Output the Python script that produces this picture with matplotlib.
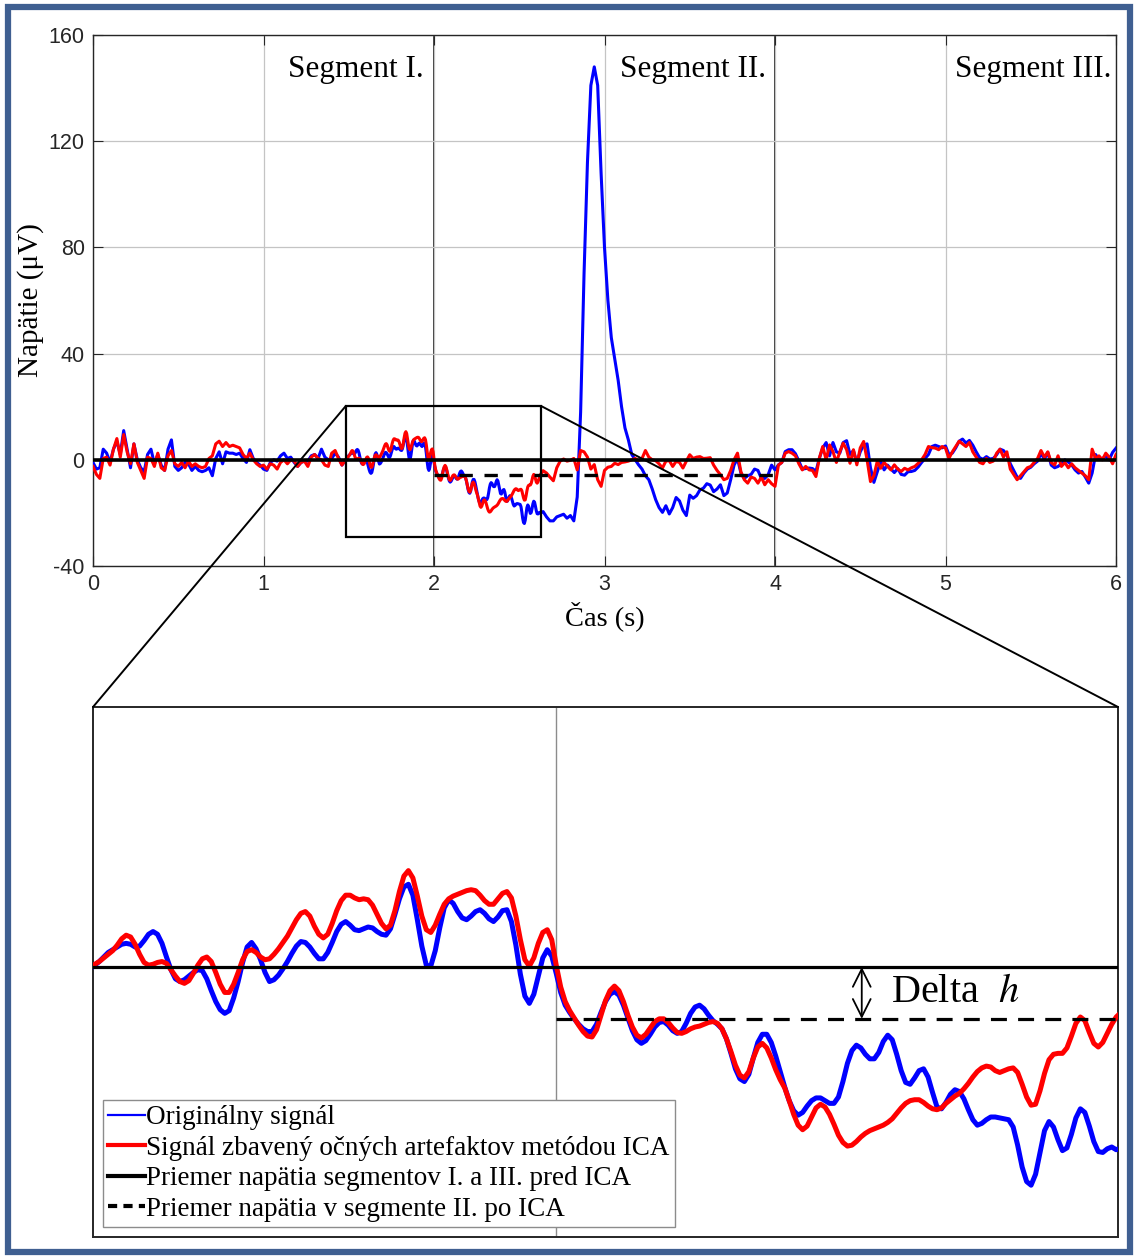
import numpy as np
import matplotlib
matplotlib.use('Agg')
import matplotlib.pyplot as plt
from matplotlib.patches import Rectangle, ConnectionPatch
from matplotlib.lines import Line2D

plt.rcParams['font.family'] = ['Liberation Serif', 'DejaVu Serif']
plt.rcParams['mathtext.fontset'] = 'stix'

# EEG signal before the zoom window: 0.00 .. 1.46 s, every 0.02 s
t0_a, dt_a = 0.0, 0.02
blue_a = [-1.0, -3.5, -3.0, 4.0, 2.5, -1.0, 4.0, 7.0, 2.0, 11.0,
          4.0, -3.0, 6.0, 0.0, -3.0, -4.5, 2.0, 4.0, -1.5, 2.0,
          -2.0, -4.0, 4.0, 7.5, -2.5, -4.0, -3.0, -1.0, -1.5, -4.0,
          -2.5, -4.0, -4.5, -4.0, -3.0, -6.0, 0.5, 3.0, -1.5, 3.0,
          2.5, 2.5, 2.0, 2.5, 0.5, -1.0, 3.8, 0.5, -1.0, -2.0,
          -3.5, -4.0, -1.0, 0.0, -0.5, 1.5, 2.5, 0.5, 1.0, -1.0,
          -2.5, -1.0, -0.5, -0.5, 1.5, 2.0, 0.5, 4.0, 1.0, 0.0,
          0.5, 2.5, 1.0, -2.0]
red_a = [-2.5, -5.5, -7.0, 0.5, 1.0, -2.0, 4.0, 8.0, 1.0, 9.5,
         3.0, -1.5, 6.0, -1.0, -4.0, -7.0, 1.0, 0.5, -2.5, 2.5,
         -3.0, -4.0, 1.5, 3.5, -1.5, -2.5, -1.0, -3.0, -0.5, -2.5,
         -1.5, -2.5, -3.0, -2.5, 0.5, 1.5, 6.0, 7.0, 5.0, 6.5,
         5.0, 5.5, 5.0, 4.5, 2.0, 0.5, 2.5, 0.0, -1.5, -2.5,
         -2.0, -3.5, -1.5, -2.0, -3.5, -1.0, 0.0, -1.5, 0.0, -0.5,
         -2.5, -1.0, -0.5, -2.5, 1.0, 2.0, 0.5, 0.0, -2.0, -2.5,
         2.5, 3.5, 0.5, -2.0]

# zoom window: 1.485 .. 2.625 s, every 0.005 s
t0_b, dt_b = 1.485, 0.005
blue_b = [0.2, 0.6, 1.1, 1.6, 1.9, 2.2, 2.5, 2.6, 2.5, 2.2,
          2.3, 2.9, 3.6, 3.9, 3.6, 2.6, 1.1, -0.3, -1.3, -1.6,
          -1.4, -1.0, -0.6, -0.3, -0.4, -1.3, -2.6, -3.8, -4.7, -5.1,
          -4.8, -3.4, -1.6, 0.5, 2.2, 2.7, 2.0, 0.8, -0.6, -1.6,
          -1.4, -0.9, -0.2, 0.6, 1.5, 2.3, 2.8, 2.7, 2.2, 1.5,
          0.9, 0.9, 1.6, 2.7, 3.9, 4.7, 5.0, 4.6, 4.1, 4.0,
          4.2, 4.4, 4.3, 3.9, 3.6, 3.5, 4.2, 5.8, 7.5, 8.8,
          9.1, 7.9, 5.2, 2.3, 0.2, 0.1, 1.8, 4.3, 6.5, 7.4,
          7.0, 6.1, 5.4, 5.2, 5.6, 6.1, 6.3, 5.9, 5.3, 5.0,
          5.5, 6.2, 6.3, 5.0, 2.4, -0.8, -3.2, -4.0, -3.0, -1.0,
          1.0, 1.9, 1.2, -0.7, -2.8, -4.2, -5.0, -5.7, -6.3, -6.8,
          -7.1, -7.1, -6.3, -5.0, -3.8, -3.0, -2.7, -3.1, -4.2, -5.6,
          -7.0, -8.0, -8.4, -8.1, -7.4, -6.6, -6.1, -6.0, -6.4, -7.0,
          -7.3, -7.1, -6.2, -5.1, -4.4, -4.2, -4.6, -5.3, -5.9, -6.3,
          -6.8, -7.9, -9.5, -11.2, -12.3, -12.6, -11.8, -10.0, -8.3, -7.4,
          -7.4, -8.3, -9.8, -11.5, -13.2, -14.7, -15.8, -16.3, -16.0, -15.3,
          -14.7, -14.4, -14.4, -14.7, -15.0, -15.0, -14.3, -12.6, -10.6, -9.2,
          -8.6, -8.9, -9.6, -10.1, -10.1, -9.4, -8.2, -7.5, -8.0, -9.6,
          -11.4, -12.7, -12.9, -12.2, -11.4, -11.2, -12.1, -13.8, -15.4, -15.6,
          -14.9, -14.0, -13.5, -13.7, -14.5, -15.7, -16.8, -17.4, -17.2, -16.8,
          -16.5, -16.5, -16.6, -16.7, -16.8, -17.6, -19.6, -22.0, -23.6, -24.0,
          -22.8, -20.4, -18.0, -17.0, -17.6, -19.0, -20.2, -19.9, -18.4, -16.6,
          -15.6, -16.0, -17.5, -19.2, -20.3, -20.4, -20.0, -19.8, -20.1]
red_b = [0.3, 0.6, 1.0, 1.4, 1.8, 2.4, 3.1, 3.5, 3.3, 2.5,
         1.4, 0.5, 0.2, 0.3, 0.5, 0.6, 0.4, -0.3, -1.0, -1.6,
         -1.8, -1.5, -0.7, 0.2, 0.9, 1.1, 0.6, -0.6, -1.9, -2.8,
         -2.8, -1.9, -0.6, 0.8, 1.7, 1.9, 1.6, 1.1, 0.8, 0.9,
         1.4, 2.0, 2.7, 3.4, 4.3, 5.2, 5.9, 6.1, 5.6, 4.5,
         3.6, 3.2, 3.6, 4.8, 6.2, 7.3, 7.9, 7.9, 7.6, 7.4,
         7.5, 7.4, 6.8, 5.8, 4.8, 4.2, 4.6, 6.2, 8.3, 10.0,
         10.6, 9.8, 7.8, 5.6, 4.1, 3.8, 4.6, 5.8, 6.9, 7.5,
         7.8, 8.0, 8.2, 8.4, 8.5, 8.4, 7.9, 7.3, 6.9, 6.9,
         7.5, 8.1, 8.3, 7.6, 5.6, 3.0, 0.8, 0.1, 1.0, 2.6,
         3.8, 4.1, 3.0, 0.2, -2.2, -3.8, -4.8, -5.6, -6.4, -7.1,
         -7.6, -7.7, -6.9, -5.3, -3.7, -2.6, -2.1, -2.6, -3.8, -5.3,
         -6.6, -7.5, -7.8, -7.4, -6.7, -6.0, -5.7, -5.7, -6.1, -6.7,
         -7.2, -7.3, -7.1, -6.8, -6.6, -6.5, -6.3, -6.1, -6.0, -6.2,
         -6.8, -7.9, -9.3, -10.8, -11.9, -12.2, -11.5, -10.0, -8.8, -8.4,
         -8.9, -10.0, -11.3, -12.4, -13.3, -14.7, -16.2, -17.4, -17.9, -17.5,
         -16.5, -15.5, -15.1, -15.4, -16.2, -17.3, -18.5, -19.3, -19.7, -19.6,
         -19.2, -18.7, -18.3, -18.0, -17.8, -17.6, -17.4, -17.1, -16.7, -16.1,
         -15.5, -15.0, -14.7, -14.6, -14.6, -14.9, -15.3, -15.6, -15.7, -15.5,
         -15.0, -14.6, -14.2, -13.9, -13.4, -12.8, -12.1, -11.5, -11.1, -10.9,
         -11.0, -11.4, -11.6, -11.4, -11.2, -11.1, -11.6, -12.9, -14.3, -15.2,
         -15.1, -13.6, -11.7, -10.2, -9.6, -9.5, -9.5, -8.9, -7.6, -6.2,
         -5.5, -5.9, -7.2, -8.4, -8.8, -8.3, -7.3, -6.3, -5.5]

# after the zoom window: 2.64 .. 6.00 s, every 0.02 s
t0_c, dt_c = 2.64, 0.02
blue_c = [-19.5, -21.5, -23.0, -23.0, -21.5, -21.0, -20.5, -22.0, -21.0, -23.0,
          -14.0, 18.0, 70.0, 112.0, 141.0, 148.0, 141.0, 108.0, 80.0, 60.0,
          46.0, 38.0, 30.0, 20.0, 12.0, 7.5, 2.0, 0.0, -1.9, -3.5,
          -6.0, -7.5, -11.0, -15.0, -18.0, -19.8, -17.3, -20.4, -18.0, -14.2,
          -15.5, -19.0, -21.0, -13.3, -14.5, -13.5, -11.3, -10.7, -9.0, -9.5,
          -12.0, -11.0, -9.4, -13.5, -12.5, -7.5, -2.0, 0.5, -5.0, -7.0,
          -6.0, -5.5, -3.5, -4.0, -7.0, -7.0, -5.6, -2.0, -3.8, -1.9,
          -1.0, 3.1, 3.8, 3.8, 2.3, -0.5, -3.5, -3.3, -3.1, -3.3,
          -4.4, 0.5, 4.5, 6.5, 1.5, 6.5, 3.0, 2.5, 6.5, 7.2,
          2.0, 3.5, -1.0, 3.0, 5.5, 6.0, -3.0, -8.5, -4.5, -0.5,
          -3.8, -2.0, -3.5, -4.8, -3.3, -5.5, -5.8, -4.5, -4.4, -4.0,
          -2.7, -1.0, 0.5, 2.0, 5.0, 5.5, 5.0, 4.5, 5.2, 2.0,
          2.5, 4.5, 7.0, 7.8, 6.3, 7.3, 5.5, 3.0, 0.8, 0.2,
          1.2, 0.3, 0.5, 1.9, 4.0, 3.5, 1.9, -1.5, -4.0, -6.5,
          -7.0, -5.0, -3.5, -2.8, -1.5, -0.5, 2.4, 0.3, 2.8, -2.0,
          -3.0, -2.5, -1.5, 0.0, -0.8, -1.9, -3.8, -5.0, -4.4, -6.5,
          -8.8, -5.0, 2.0, 0.3, 0.5, 1.3, 0.0, 2.8, 4.4]
red_c = [-4.1, -5.0, -6.5, -7.9, -3.0, -0.5, 0.3, -0.5, -0.2, 0.5,
         -3.8, 3.5, 3.0, 1.0, -3.5, -1.8, -7.5, -10.0, -4.0, -2.8,
         -2.5, -1.3, -1.8, -1.0, -0.8, -0.5, 0.0, 0.5, -0.3, 0.5,
         3.5, 1.0, 0.0, -0.3, -1.5, -3.1, -0.5, -0.3, -2.5, -0.6,
         -1.0, -3.1, -0.5, 1.9, 0.5, 1.0, 1.2, 0.5, 0.6, 0.8,
         -2.0, -4.0, -5.6, -7.5, -7.0, -4.0, 0.0, 2.5, -4.5, -7.5,
         -8.8, -6.5, -7.0, -8.8, -6.5, -9.4, -7.5, -9.0, -10.0, -2.0,
         -1.0, 2.5, 3.1, 2.5, 1.5, -1.5, -3.8, -2.5, -3.8, -4.0,
         -6.3, 0.6, 5.0, 0.0, 5.6, 3.1, -1.0, 3.0, 6.3, 3.8,
         -1.3, 3.8, -1.9, 4.5, 6.9, 0.0, -8.2, -6.0, -0.5, -3.2,
         -1.0, -2.5, -3.8, -1.9, -3.5, -4.4, -3.2, -3.8, -3.0, -2.5,
         -1.3, 0.0, 2.0, 5.0, 4.6, 4.4, 3.8, 5.0, 4.4, 0.5,
         3.0, 5.0, 7.0, 6.0, 5.0, 6.5, 3.0, 1.0, -1.0, -1.5,
         0.5, -1.0, -0.5, 2.5, 4.0, 1.0, 3.0, -3.5, -5.5, -7.5,
         -6.0, -4.5, -3.0, -2.5, -1.0, 0.5, 3.5, 1.0, 3.0, -1.0,
         -2.0, 1.5, -2.5, -1.0, -3.0, -1.5, -3.0, -4.0, -5.0, -6.0,
         -7.5, 4.0, 0.5, 1.5, 0.0, 2.5, 1.0, -1.5, 2.0]

mean_seg13 = 0.0       # mean of segments I and III before ICA
mean_seg2_ica = -5.7   # mean of segment II after ICA
seg_bounds = [2, 4]
seg_labels = ['Segment I.', 'Segment II.', 'Segment III.']
seg_label_x = [1.94, 3.95, 5.97]
xticks = [0, 1, 2, 3, 4, 5, 6]
yticks = [-40, 0, 40, 80, 120, 160]
zoom_x = (1.483, 2.627)
zoom_y = (-29.0, 20.3)
inset_ylim = (-29.7, 28.6)
delta_x = 2.341
legend_labels = ['Originálny signál',
                 'Signál zbavený očných artefaktov metódou ICA',
                 'Priemer napätia segmentov I. a III. pred ICA',
                 'Priemer napätia v segmente II. po ICA']


def times(t0, dt, vals):
    return t0 + dt * np.arange(len(vals))


t_blue = np.concatenate([times(t0_a, dt_a, blue_a), times(t0_b, dt_b, blue_b),
                         times(t0_c, dt_c, blue_c)])
v_blue = np.array(blue_a + blue_b + blue_c)
t_red = np.concatenate([times(t0_a, dt_a, red_a), times(t0_b, dt_b, red_b),
                        times(t0_c, dt_c, red_c)])
v_red = np.array(red_a + red_b + red_c)

BLUE = '#0000FF'
RED = '#FF0000'
tick_font = {'family': 'Liberation Sans', 'size': 15.5}

fig = plt.figure(figsize=(11.36, 12.58), dpi=100)

# main plot
ax = fig.add_axes([93 / 1136, 1 - 566 / 1258, 1023 / 1136, 531 / 1258])
ax.plot(t_blue, v_blue, color=BLUE, lw=2.2, zorder=3)
ax.plot(t_red, v_red, color=RED, lw=2.2, zorder=4)
ax.plot([0, 6], [mean_seg13, mean_seg13], color='black', lw=2.6, zorder=5)
ax.plot(seg_bounds, [mean_seg2_ica, mean_seg2_ica], color='black', lw=2.4,
        ls=(0, (4, 3.5)), zorder=5)
ax.set_xlim(0, 6)
ax.set_ylim(-40, 160)
ax.set_xticks(xticks)
ax.set_yticks(yticks)
ax.set_xticklabels([str(x) for x in xticks], fontdict=tick_font, color='#262626')
ax.set_yticklabels([str(y) for y in yticks], fontdict=tick_font, color='#262626')
ax.tick_params(direction='in', length=7, width=0.8, top=True, right=True,
               colors='#262626', pad=6)
ax.grid(True, color='#c4c4c4', lw=0.9, zorder=0)
for b in seg_bounds:
    ax.axvline(b, color='black', lw=1.1, zorder=1)
for s in ax.spines.values():
    s.set_color('#262626')
    s.set_linewidth(1.0)
ax.set_xlabel('Čas (s)', fontsize=20.5, labelpad=4)
ax.set_ylabel('Napätie (μV)', fontsize=21, labelpad=3)
for lab, x in zip(seg_labels, seg_label_x):
    ax.text(x, 144, lab, ha='right', va='baseline', fontsize=22.5)

ax.add_patch(Rectangle((zoom_x[0], zoom_y[0]), zoom_x[1] - zoom_x[0],
                       zoom_y[1] - zoom_y[0], fill=False, ec='black', lw=1.6,
                       zorder=6))

# zoomed inset
axins = fig.add_axes([93 / 1136, 1 - 1237 / 1258, 1025 / 1136, 530 / 1258])
axins.plot(t_blue, v_blue, color=BLUE, lw=3.6, zorder=3)
axins.plot(t_red, v_red, color=RED, lw=3.6, zorder=4)
axins.axhline(mean_seg13, color='black', lw=2.3, zorder=5)
axins.plot([seg_bounds[0], zoom_x[1]], [mean_seg2_ica, mean_seg2_ica],
           color='black', lw=2.3, ls=(0, (5, 3.5)), zorder=5)
axins.axvline(seg_bounds[0], color='#8c8c8c', lw=1.0, zorder=1)
axins.set_xlim(*zoom_x)
axins.set_ylim(*inset_ylim)
axins.set_xticks([])
axins.set_yticks([])
for s in axins.spines.values():
    s.set_color('#262626')
    s.set_linewidth(1.4)

axins.annotate('', xy=(delta_x, mean_seg2_ica), xytext=(delta_x, mean_seg13),
               arrowprops=dict(arrowstyle='<->', color='black', lw=1.3,
                               mutation_scale=32, shrinkA=0, shrinkB=0),
               zorder=6)
axins.text(delta_x + 0.033, (mean_seg13 + mean_seg2_ica) / 2, 'Delta  $h$',
           fontsize=29, ha='left', va='center')

handles = [Line2D([], [], color=BLUE, lw=1.6),
           Line2D([], [], color=RED, lw=3.0),
           Line2D([], [], color='black', lw=3.0),
           Line2D([], [], color='black', lw=3.0, ls=(0, (2.2, 1.5)))]
leg = axins.legend(handles, legend_labels, loc='lower left',
                   bbox_to_anchor=(0.0098, 0.019), borderaxespad=0,
                   fontsize=19.5, handlelength=1.35, handletextpad=0.03,
                   labelspacing=0.2, borderpad=0.2, fancybox=False,
                   framealpha=1, edgecolor='#8c8c8c')
leg.get_frame().set_linewidth(1.0)
leg.set_zorder(10)

# connector lines from the zoom box to the inset corners
for xa, xb in [(zoom_x[0], 0), (zoom_x[1], 1)]:
    con = ConnectionPatch(xyA=(xa, zoom_y[1]), coordsA=ax.transData,
                          xyB=(xb, 1), coordsB=axins.transAxes,
                          color='black', lw=1.4, zorder=20)
    fig.add_artist(con)

# blue frame round the figure
fig.add_artist(Rectangle((8 / 1136, 6 / 1258), 1122 / 1136, 1245 / 1258,
                         transform=fig.transFigure, fill=False,
                         ec='#3F5F91', lw=4.5, zorder=30))

fig.savefig('out.png', dpi=100)
